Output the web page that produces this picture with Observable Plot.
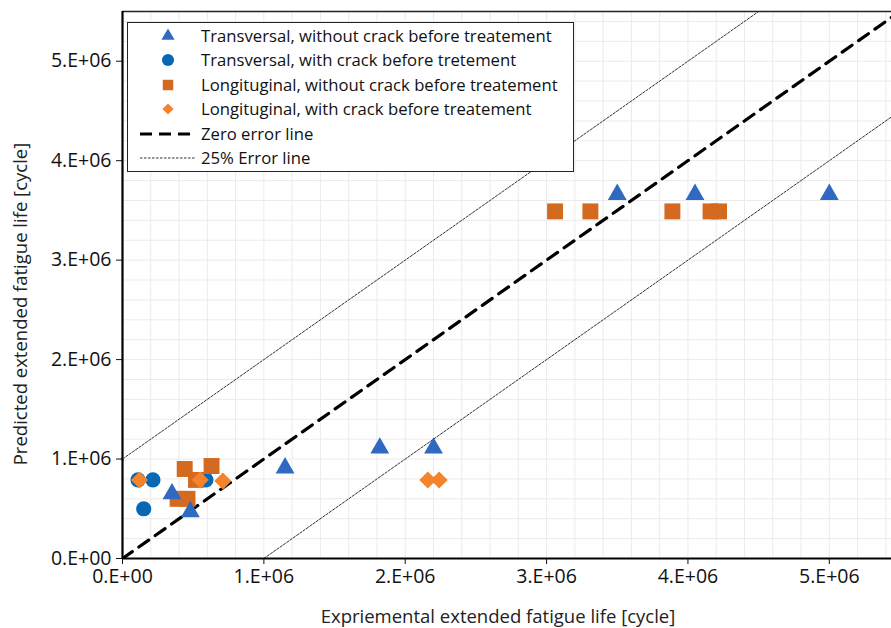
<!DOCTYPE html>
<html>
<head>
<meta charset="utf-8">
<script src="https://cdn.jsdelivr.net/npm/d3@7"></script>
<script src="https://cdn.jsdelivr.net/npm/@observablehq/plot@0.6"></script>
<style>
  body { margin: 0; background: white; font-family: "Open Sans", sans-serif; }
  #chart { position: relative; width: 891px; height: 628px; }
  #legend {
    position: absolute; left: 127px; top: 22px; width: 447px; height: 150px;
    border: 1.5px solid #222; background: white; box-sizing: border-box;
    font-size: 16.7px; color: #111;
  }
  .row { position: absolute; left: 0; height: 24px; }
  .row svg { position: absolute; left: 0; top: 0; }
  .row span { position: absolute; left: 73px; top: 0; line-height: 24px; white-space: nowrap; }
</style>
</head>
<body>
<div id="chart"></div>
<script>
// series names
const seriesNames = [
  "Transversal, without crack before treatement",
  "Transversal, with crack before tretement",
  "Longituginal, without crack before treatement",
  "Longituginal, with crack before treatement"
]

// Transversal, without crack
const transNoCrackX = [1.15e6, 1.82e6, 2.2e6, 3.5e6, 4.05e6, 5.0e6, 0.35e6, 0.48e6]
const transNoCrackY = [0.91e6, 1.11e6, 1.11e6, 3.66e6, 3.66e6, 3.66e6, 0.65e6, 0.47e6]

// Transversal, with crack
const transCrackX = [0.11e6, 0.215e6, 0.15e6, 0.59e6]
const transCrackY = [0.79e6, 0.79e6, 0.50e6, 0.79e6]

// Longitudinal, without crack
const longNoCrackX = [0.44e6, 0.63e6, 0.52e6, 0.39e6, 0.46e6, 3.06e6, 3.31e6, 3.89e6, 4.16e6, 4.22e6]
const longNoCrackY = [0.90e6, 0.93e6, 0.79e6, 0.60e6, 0.60e6, 3.49e6, 3.49e6, 3.49e6, 3.49e6, 3.49e6]

// Longitudinal, with crack
const longCrackX = [0.12e6, 0.55e6, 0.71e6, 2.16e6, 2.24e6]
const longCrackY = [0.79e6, 0.79e6, 0.78e6, 0.79e6, 0.79e6]

// reference lines
const zeroLine = [[0, 0], [5.5e6, 5.5e6]]
const upperLine = [[0, 1e6], [4.5e6, 5.5e6]]
const lowerLine = [[1e6, 0], [6.5e6, 5.5e6]]

const xTicks = [0, 1e6, 2e6, 3e6, 4e6, 5e6]
const yTicks = [0, 1e6, 2e6, 3e6, 4e6, 5e6]
const xTickLabels = ["0.E+00", "1.E+06", "2.E+06", "3.E+06", "4.E+06", "5.E+06"]
const yTickLabels = ["0.E+00", "1.E+06", "2.E+06", "3.E+06", "4.E+06", "5.E+06"]
const gridStep = 2e5

const xLabel = "Expriemental extended fatigue life [cycle]"
const yLabel = "Predicted extended fatigue life [cycle]"

const colors = ["#2F69C0", "#0868B3", "#D46A20", "#F5832B"]

const toRows = (xs, ys) => xs.map((x, i) => ({x: x, y: ys[i]}))
const transNoCrack = toRows(transNoCrackX, transNoCrackY)
const transCrack = toRows(transCrackX, transCrackY)
const longNoCrack = toRows(longNoCrackX, longNoCrackY)
const longCrack = toRows(longCrackX, longCrackY)

const gridX = d3.range(0, 5.44e6, gridStep)
const gridY = d3.range(0, 5.5e6 + 1, gridStep)

let chart = Plot.plot({
  width: 891,
  height: 628,
  marginLeft: 122,
  marginRight: 0,
  marginTop: 11,
  marginBottom: 70,
  style: {
    fontFamily: "Open Sans",
    fontSize: "19.5px",
    color: "#111",
    background: "white"
  },
  x: {domain: [0, 5.44e6]},
  y: {domain: [0, 5.5e6]},
  marks: [
    Plot.ruleX(gridX, {stroke: "#ebebeb", strokeWidth: 1}),
    Plot.ruleY(gridY, {stroke: "#ebebeb", strokeWidth: 1}),
    Plot.ruleY([5.5e6], {stroke: "#222", strokeWidth: 1.3}),
    Plot.line(upperLine, {x: d => d[0], y: d => d[1], stroke: "#333", strokeWidth: 1, strokeDasharray: "2.5,1.5", clip: true}),
    Plot.line(lowerLine, {x: d => d[0], y: d => d[1], stroke: "#333", strokeWidth: 1, strokeDasharray: "2.5,1.5", clip: true}),
    Plot.line(zeroLine, {x: d => d[0], y: d => d[1], stroke: "black", strokeWidth: 3.2, strokeDasharray: "12,8", clip: true}),
    Plot.dot(upperLine.slice(0, 1), {x: d => d[0], y: d => d[1], symbol: "square", r: 2, fill: "#F8AE8C", stroke: "none"}),
    Plot.dot(transCrack, {x: "x", y: "y", symbol: "circle", r: 7.6, fill: colors[1]}),
    Plot.dot(longNoCrack, {x: "x", y: "y", symbol: "square", r: 9, fill: colors[2]}),
    Plot.dot(transNoCrack, {x: "x", y: "y", symbol: "triangle", r: 7, fill: colors[0]}),
    Plot.dot(longCrack, {x: "x", y: "y", symbol: "square", r: 6.8, rotate: 45, fill: colors[3]}),
    Plot.axisX(xTicks, {tickFormat: (d, i) => xTickLabels[i], tickSize: 6, tickPadding: 5, label: null, fontSize: 19.5, fill: "#111"}),
    Plot.axisY(yTicks, {tickFormat: (d, i) => yTickLabels[i], tickSize: 6, tickPadding: 5, label: null, fontSize: 19.5, fill: "#111"}),
    Plot.ruleX([0], {stroke: "black", strokeWidth: 2.2}),
    Plot.ruleY([0], {stroke: "black", strokeWidth: 2.2}),
    Plot.text([xLabel], {frameAnchor: "bottom", lineAnchor: "middle", dy: 59, dx: -9, fontSize: 18.5, fill: "#222"}),
    Plot.text([yLabel], {frameAnchor: "left", textAnchor: "middle", lineAnchor: "middle", dx: -101, dy: 19, rotate: -90, fontSize: 18.5, fill: "#222"})
  ]
})

d3.select("#chart").append(() => chart)

// legend inside the plot area
const legend = d3.select("#chart").append("div").attr("id", "legend")
const rowTops = [0.5, 25, 49.5, 74, 98.5, 123]
const symbols = [
  d3.symbol(d3.symbolTriangle, 75)(),
  d3.symbol(d3.symbolCircle, 115)(),
  d3.symbol(d3.symbolSquare, 110)(),
  d3.symbol(d3.symbolSquare, 62)()
]
seriesNames.forEach((name, i) => {
  const row = legend.append("div").attr("class", "row").style("top", rowTops[i] + "px")
  const svg = row.append("svg").attr("width", 70).attr("height", 24)
  svg.append("path")
    .attr("d", symbols[i])
    .attr("fill", colors[i])
    .attr("transform", "translate(40,12)" + (i == 3 ? " rotate(45)" : ""))
  row.append("span").text(name)
})
const r5 = legend.append("div").attr("class", "row").style("top", rowTops[4] + "px")
r5.append("svg").attr("width", 70).attr("height", 24)
  .append("line").attr("x1", 12).attr("x2", 68).attr("y1", 12).attr("y2", 12)
  .attr("stroke", "black").attr("stroke-width", 3.2).attr("stroke-dasharray", "12,7")
r5.append("span").text("Zero error line")
const r6 = legend.append("div").attr("class", "row").style("top", rowTops[5] + "px")
r6.append("svg").attr("width", 70).attr("height", 24)
  .append("line").attr("x1", 12).attr("x2", 68).attr("y1", 12).attr("y2", 12)
  .attr("stroke", "#333").attr("stroke-width", 1).attr("stroke-dasharray", "2.5,1.5")
r6.append("span").text("25% Error line")
</script>
</body>
</html>
